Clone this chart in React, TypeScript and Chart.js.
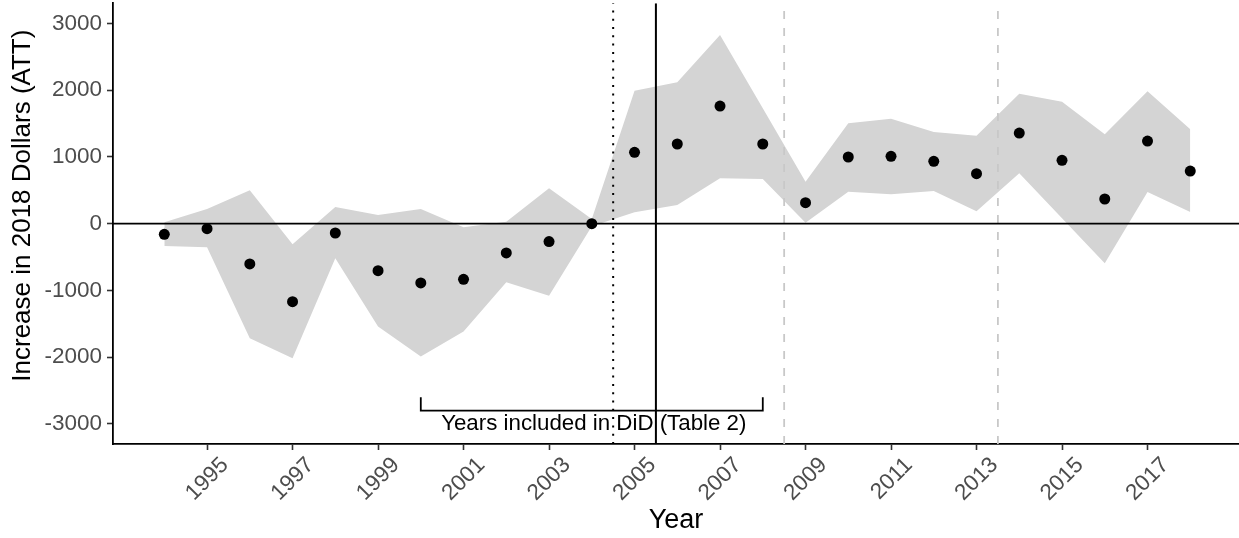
import React, { useEffect, useRef } from "react";
import { Chart, registerables } from "chart.js";

Chart.register(...registerables);

// yearly ATT estimates with confidence band
const years = [
  1994, 1995, 1996, 1997, 1998, 1999, 2000, 2001, 2002, 2003, 2004, 2005, 2006,
  2007, 2008, 2009, 2010, 2011, 2012, 2013, 2014, 2015, 2016, 2017, 2018,
];
const estimate = [
  -160, -75, -604, -1168, -140, -704, -888, -833, -439, -269, 0, 1068, 1193,
  1761, 1193, 314, 998, 1008, 933, 748, 1357, 948, 369, 1237, 788,
];
const upper = [
  20, 220, 499, -309, 250, 130, 220, -55, 30, 529, 70, 1991, 2116, 2824, 1730,
  629, 1502, 1572, 1372, 1317, 1946, 1826, 1337, 1981, 1412,
];
const lower = [
  -334, -354, -1716, -2016, -519, -1542, -1991, -1617, -878, -1078, -40, 170,
  279, 679, 669, 15, 479, 439, 489, 185, 753, 80, -594, 474, 175,
];

const xTicks = [1995, 1997, 1999, 2001, 2003, 2005, 2007, 2009, 2011, 2013, 2015, 2017];
const yTicks = [-3000, -2000, -1000, 0, 1000, 2000, 3000];

const xMin = 1992.8;
const xMax = 2019.14;
const yMin = -3300;
const yMax = 3300;

const dottedLineYear = 2004.5;
const treatmentYear = 2005.5;
const dashedLineYears = [2008.5, 2013.5];

const bracketYears = [2000, 2008];
const bracketLevels = [-2600, -2800];
const bracketText = "Years included in DiD (Table 2)";
const bracketTextLevel = -3000;

const yTitle = "Increase in 2018 Dollars (ATT)";

const FONT = "'Liberation Sans', Arial, sans-serif";

const vLine = (x: number) => [
  { x, y: yMin },
  { x, y: yMax },
];

const noPadding = (scale: any) => {
  scale.paddingTop = 0;
  scale.paddingBottom = 0;
  scale.paddingLeft = 0;
  scale.paddingRight = 0;
};

const annotations = {
  id: "annotations",
  afterDatasetsDraw(chart: any) {
    const { ctx, scales, chartArea } = chart;
    ctx.save();
    ctx.fillStyle = "#000";
    ctx.font = `22.3px ${FONT}`;
    ctx.textAlign = "center";
    ctx.textBaseline = "middle";
    const cx = scales.x.getPixelForValue((bracketYears[0] + bracketYears[1]) / 2);
    ctx.fillText(bracketText, cx + 2, scales.y.getPixelForValue(bracketTextLevel));
    ctx.restore();

    ctx.save();
    ctx.font = `26px ${FONT}`;
    ctx.fillStyle = "#000";
    ctx.textAlign = "center";
    ctx.textBaseline = "middle";
    ctx.translate(23, (chartArea.top + chartArea.bottom) / 2 - 18);
    ctx.rotate(-Math.PI / 2);
    ctx.fillText(yTitle, 0, 0);
    ctx.restore();
  },
};

const App = () => {
  const chartRef = useRef<HTMLCanvasElement>(null);
  const chartInstanceRef = useRef<any>(null);

  useEffect(() => {
    const ctx = chartRef.current!.getContext("2d")!;
    if (chartInstanceRef.current) chartInstanceRef.current.destroy();

    Chart.defaults.font.family = FONT;

    chartInstanceRef.current = new Chart(ctx, {
      type: "line",
      data: {
        datasets: [
          {
            // band lower edge
            data: years.map((y, i) => ({ x: y, y: lower[i] })),
            borderWidth: 0,
            borderColor: "rgba(0,0,0,0)",
            pointRadius: 0,
            fill: false,
            order: 6,
          },
          {
            // band upper edge, filled down to lower
            data: years.map((y, i) => ({ x: y, y: upper[i] })),
            borderWidth: 0,
            borderColor: "rgba(0,0,0,0)",
            backgroundColor: "#d4d4d4",
            pointRadius: 0,
            fill: "-1",
            order: 5,
          },
          {
            data: [
              { x: xMin, y: 0 },
              { x: xMax, y: 0 },
            ],
            borderColor: "#000",
            borderWidth: 1.6,
            pointRadius: 0,
            order: 3,
          },
          {
            data: vLine(dottedLineYear),
            borderColor: "#000",
            borderWidth: 2,
            borderDash: [2, 6.3],
            pointRadius: 0,
            order: 3,
          },
          {
            data: vLine(treatmentYear),
            borderColor: "#000",
            borderWidth: 2,
            pointRadius: 0,
            order: 3,
          },
          ...dashedLineYears.map((yr) => ({
            data: vLine(yr),
            borderColor: "#c8c8c8",
            borderWidth: 1.8,
            borderDash: [8, 9],
            pointRadius: 0,
            order: 3,
          })),
          {
            // bracket
            data: [
              { x: bracketYears[0], y: bracketLevels[0] },
              { x: bracketYears[0], y: bracketLevels[1] },
              { x: bracketYears[1], y: bracketLevels[1] },
              { x: bracketYears[1], y: bracketLevels[0] },
            ],
            borderColor: "#000",
            borderWidth: 1.8,
            pointRadius: 0,
            order: 2,
          },
          {
            data: years.map((y, i) => ({ x: y, y: estimate[i] })),
            showLine: false,
            pointRadius: 5.5,
            pointBackgroundColor: "#000",
            pointBorderWidth: 0,
            order: 0,
          },
        ],
      },
      options: {
        animation: false,
        responsive: false,
        events: [],
        layout: { autoPadding: false, padding: { top: 3.3, right: 0, left: 0, bottom: 0 } },
        plugins: {
          legend: { display: false },
          tooltip: { enabled: false },
        },
        elements: { line: { tension: 0 } },
        scales: {
          x: {
            type: "linear",
            min: xMin,
            max: xMax,
            afterFit: (scale: any) => {
              scale.height = 94;
              noPadding(scale);
            },
            afterBuildTicks: (scale: any) => {
              scale.ticks = xTicks.map((v) => ({ value: v }));
            },
            ticks: {
              autoSkip: false,
              minRotation: 45,
              maxRotation: 45,
              padding: 2,
              labelOffset: 18,
              color: "#4d4d4d",
              font: { size: 22.5 },
              callback: (v: any) => String(v),
            },
            grid: {
              drawOnChartArea: false,
              tickLength: 6,
              tickColor: "#333",
              tickWidth: 1.6,
            },
            border: { display: true, color: "#000", width: 1.8 },
            title: {
              display: true,
              text: "Year",
              color: "#000",
              font: { size: 27 },
              padding: { top: 0, bottom: 1 },
            },
          },
          y: {
            type: "linear",
            min: yMin,
            max: yMax,
            afterFit: (scale: any) => {
              scale.width = 113;
              noPadding(scale);
            },
            afterBuildTicks: (scale: any) => {
              scale.ticks = yTicks.map((v) => ({ value: v }));
            },
            ticks: {
              padding: 5,
              color: "#4d4d4d",
              font: { size: 22.5 },
              callback: (v: any) => String(v),
            },
            grid: {
              drawOnChartArea: false,
              tickLength: 6,
              tickColor: "#333",
              tickWidth: 1.6,
            },
            border: { display: true, color: "#000", width: 1.8 },
          },
        },
      },
      plugins: [annotations],
    });

    return () => {
      if (chartInstanceRef.current) {
        chartInstanceRef.current.destroy();
        chartInstanceRef.current = null;
      }
    };
  }, []);

  return (
    <div style={{ position: "fixed", left: 0, top: 0, width: 1239, height: 538, background: "#fff" }}>
      <canvas ref={chartRef} width={1239} height={538} />
    </div>
  );
};

export default App;
